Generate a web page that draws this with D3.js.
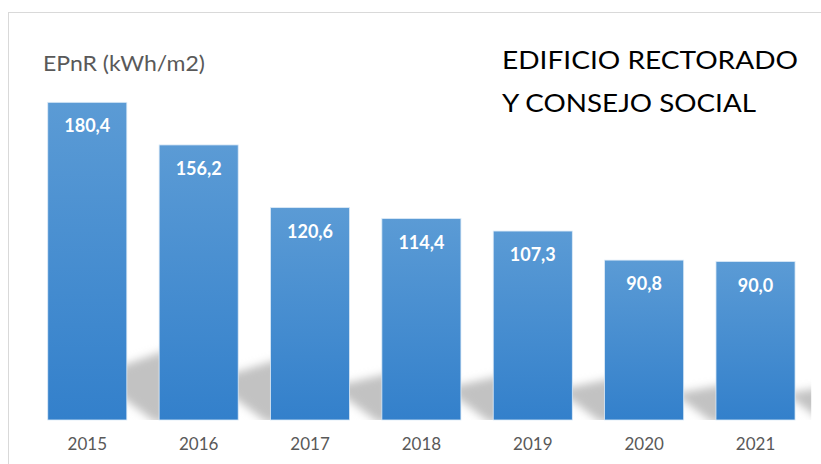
<!DOCTYPE html>
<html>
<head>
<meta charset="utf-8">
<script src="https://cdn.jsdelivr.net/npm/d3@7"></script>
<style>
    body { margin: 0; background: #fff; }
    #chart-area { width: 821px; height: 464px; }
</style>
</head>
<body>
<div id="chart-area"></div>
<script>

// data
let years = ["2015", "2016", "2017", "2018", "2019", "2020", "2021"];
let epnr = [180.4, 156.2, 120.6, 114.4, 107.3, 90.8, 90.0];
let titleLines = ["EDIFICIO RECTORADO", "Y CONSEJO SOCIAL"];
let unitLabel = "EPnR (kWh/m2)";


class BarchartVis {
    constructor(parentElement, data) {
        this.parentElement = parentElement;
        this.displayData = data;

        this.initVis();
    }

    initVis() {
        let vis = this;

        vis.width = 821;
        vis.height = 464;
        vis.baseline = 420;

        vis.svg = d3.select("#" + vis.parentElement)
            .append("svg")
            .attr("width", vis.width)
            .attr("height", vis.height);

        // chart area border
        vis.svg.append("rect")
            .attr("x", 8.5)
            .attr("y", 12.5)
            .attr("width", 840)
            .attr("height", 480)
            .attr("fill", "none")
            .attr("stroke", "#d9d9d9")
            .attr("stroke-width", 1);

        vis.x = d3.scaleBand()
            .range([31.6, 811.2])
            .paddingInner(0.29)
            .paddingOuter(0.145);

        vis.y = d3.scaleLinear()
            .domain([0, 200])
            .range([vis.baseline, 67.8]);

        let defs = vis.svg.append("defs");

        let grad = defs.append("linearGradient")
            .attr("id", "barGrad")
            .attr("x1", 0).attr("y1", 0)
            .attr("x2", 0).attr("y2", 1);
        grad.append("stop").attr("offset", "0%").attr("stop-color", "#5b9bd5");
        grad.append("stop").attr("offset", "100%").attr("stop-color", "#3380cb");

        defs.append("filter")
            .attr("id", "blur")
            .attr("x", "-30%").attr("y", "-30%")
            .attr("width", "160%").attr("height", "160%")
            .append("feGaussianBlur")
            .attr("stdDeviation", 4);

        defs.append("clipPath")
            .attr("id", "plotClip")
            .append("rect")
            .attr("x", vis.x.range()[0])
            .attr("y", 0)
            .attr("width", vis.x.range()[1] - vis.x.range()[0])
            .attr("height", vis.baseline);

        vis.shadowGroup = vis.svg.append("g")
            .attr("clip-path", "url(#plotClip)");
        vis.barGroup = vis.svg.append("g");

        vis.xAxisGroup = vis.svg.append("g")
            .attr("class", "x-axis axis")
            .attr("transform", "translate(0," + vis.baseline + ")");

        // unit label
        vis.svg.append("text")
            .attr("x", 43)
            .attr("y", 71)
            .attr("font-family", "Lato, sans-serif")
            .attr("font-size", 21)
            .attr("fill", "#595959")
            .attr("textLength", 162)
            .attr("lengthAdjust", "spacingAndGlyphs")
            .text(unitLabel);

        // title
        vis.svg.selectAll(".title")
            .data(titleLines)
            .enter().append("text")
            .attr("class", "title")
            .attr("x", 502)
            .attr("y", (d, i) => 68.5 + i * 43.5)
            .attr("font-family", "Lato, sans-serif")
            .attr("font-size", 25)
            .attr("fill", "#000")
            .attr("textLength", (d, i) => i === 0 ? 296 : 254)
            .attr("lengthAdjust", "spacingAndGlyphs")
            .text(d => d);

        vis.fmt = d3.formatLocale({decimal: ",", thousands: ".", grouping: [3], currency: ["", "€"]}).format(".1f");

        vis.updateVis();
    }

    updateVis() {
        let vis = this;

        vis.x.domain(vis.displayData.map(d => d.year));

        let xAxis = d3.axisBottom(vis.x).tickSize(0).tickPadding(18);
        vis.xAxisGroup.call(xAxis);
        vis.xAxisGroup.select(".domain").remove();
        vis.xAxisGroup.selectAll("text")
            .attr("font-family", "Lato, sans-serif")
            .attr("font-size", 17)
            .attr("fill", "#595959");

        let gap = vis.x.step() - vis.x.bandwidth();

        // soft perspective shadows behind the bars
        vis.shadowGroup.selectAll("polygon")
            .data(vis.displayData)
            .enter().append("polygon")
            .attr("fill", "#c2c2c2")
            .attr("filter", "url(#blur)")
            .attr("points", d => {
                let x1 = vis.x(d.year) + vis.x.bandwidth();
                let b = vis.baseline;
                let t = (b - vis.y(d.value)) * 0.22;
                return [
                    [x1 - 20, b - 0.7 * t],
                    [x1 + gap + 8, b - t],
                    [x1 + gap + 8, b + 2],
                    [x1 + gap - 4, b + 2],
                    [x1 - 20, b - 34]
                ].map(p => p.join(",")).join(" ");
            });

        vis.barGroup.selectAll("rect")
            .data(vis.displayData)
            .enter().append("rect")
            .attr("class", "bar")
            .attr("x", d => vis.x(d.year))
            .attr("y", d => vis.y(d.value))
            .attr("width", vis.x.bandwidth())
            .attr("height", d => vis.baseline - vis.y(d.value))
            .attr("fill", "url(#barGrad)")
            .attr("stroke", "#dceaf7")
            .attr("stroke-width", 0.8);

        vis.barGroup.selectAll(".val")
            .data(vis.displayData)
            .enter().append("text")
            .attr("class", "val")
            .attr("x", d => vis.x(d.year) + vis.x.bandwidth() / 2)
            .attr("y", d => vis.y(d.value) + 30)
            .attr("text-anchor", "middle")
            .attr("font-family", "Lato, sans-serif")
            .attr("font-weight", "bold")
            .attr("font-size", 18)
            .attr("fill", "#fff")
            .text(d => vis.fmt(d.value));
    }
}

let chartData = years.map((y, i) => ({year: y, value: epnr[i]}));
new BarchartVis("chart-area", chartData);

</script>
</body>
</html>
